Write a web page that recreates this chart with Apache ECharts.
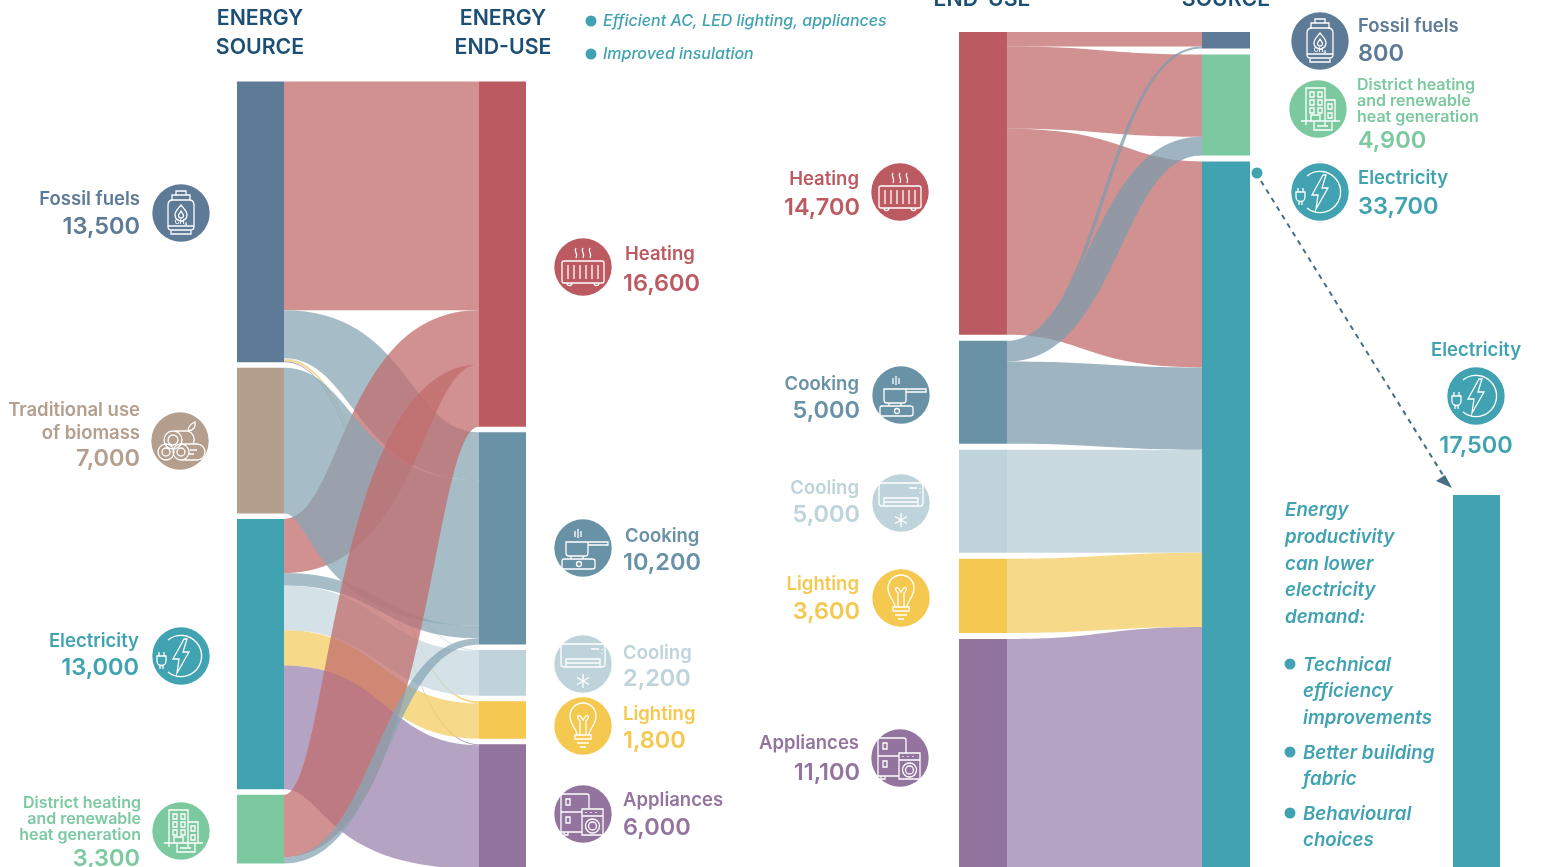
<!DOCTYPE html>
<html>
<head>
<meta charset="utf-8">
<title>Energy source and end-use</title>
<style>
  html, body { margin: 0; padding: 0; background: #fff; overflow: hidden; }
  #chart { width: 1542px; height: 867px; }
</style>
<script src="https://cdn.jsdelivr.net/npm/echarts@6/dist/echarts.min.js"></script>
</head>
<body>
<div id="chart"></div>
<script>
// Left diagram: energy source -> energy end-use
const sourcesNow = ["Fossil fuels", "Traditional use of biomass", "Electricity", "District heating"];
const usesNow = ["Heating", "Cooking", "Cooling", "Lighting", "Appliances"];
const nowFrom = ["Fossil fuels", "Fossil fuels", "Fossil fuels", "Fossil fuels", "Fossil fuels", "Electricity", "Traditional use of biomass", "Electricity", "Electricity", "Electricity", "Electricity", "District heating", "District heating"];
const nowTo = ["Heating", "Cooking", "Cooling", "Lighting", "Appliances", "Heating", "Cooking", "Cooking", "Cooling", "Lighting", "Appliances", "Heating", "Cooking"];
const nowValues = [11000, 2300, 50, 100, 50, 2600, 7000, 600, 2150, 1700, 5950, 3000, 300];

// Right diagram: end-use -> source
const usesLater = ["Heating", "Cooking", "Cooling", "Lighting", "Appliances"];
const sourcesLater = ["Fossil fuels", "District heating", "Electricity"];
const laterFrom = ["Heating", "Heating", "Heating", "Cooking", "Cooking", "Cooking", "Cooling", "Lighting", "Appliances"];
const laterTo = ["Fossil fuels", "District heating", "Electricity", "Fossil fuels", "District heating", "Electricity", "Electricity", "Electricity", "Electricity"];
// Appliances -> Electricity is read off the drawn band, which runs past the bottom
// edge of the picture; it is thicker than the printed 11,100 would make it.
const laterValues = [700, 4000, 10000, 100, 900, 4000, 5000, 3600, 11800];

// Electricity left after the productivity measures
const barNames = ["Electricity"];
const barValues = [17500];

const colors = {
  "Fossil fuels": "#5d7a97",
  "Traditional use of biomass": "#b49f8e",
  "Electricity": "#41a3b1",
  "District heating": "#7cc9a0",
  "Heating": "#bb5a60",
  "Cooking": "#6a92a6",
  "Cooling": "#bed3da",
  "Lighting": "#f5c84f",
  "Appliances": "#93749f"
};
// link tints, all drawn at LINK_ALPHA
const LINK_ALPHA = 0.75;
const nowLink = { Heating: "#c26c6c", Cooking: "#88a7b6", Cooling: "#c6d7df", Lighting: "#f4cc63", Appliances: "#9b84ae" };
const laterLink = { Heating: "#c26c6c", Cooking: "#7e9bac", Cooling: "#b8ced7", Lighting: "#f4cc63", Appliances: "#9b84ae" };
const FONT = "Inter, 'Noto Sans', sans-serif";
const TEAL = colors["Electricity"];

// the library lays out the nodes; its own ribbons stay transparent (see linkCurves)
function sankey(names, from, to, values, box) {
  return Object.assign({
    type: "sankey",
    nodeWidth: 47,
    nodeGap: 5.5,
    layoutIterations: 0,
    draggable: false,
    silent: true,
    label: { show: false },
    emphasis: { disabled: true },
    lineStyle: { opacity: 0 },
    data: names.map(n => ({ name: n, itemStyle: { color: colors[n], opacity: 1 } })),
    links: values.map((v, i) => ({ source: from[i], target: to[i], value: v }))
  }, box);
}

const NOW_BOX = { left: 237, top: 81.5, width: 289, height: 787.5 };
const LATER_BOX = { left: 959, top: 32, width: 291, height: 850, nodeWidth: 48, nodeGap: 6 };

// In the picture the two edges of a steep link bow apart, so the band swells in the
// middle. Sideways shift of the [upper, lower] edge's control points, per link, in px.
const nowBow = [[0, 0], [27, -27], [-12, -12], [0, 0], [0, 0], [-39, 40], [-28, -68], [0, 0], [0, 0], [0, 0], [5, -57], [-51, 49], [-6, 6]];
const laterBow = [[0, 0], [0, 0], [20, -20], [-2, 2], [-15, 15], [0, 0], [0, 0], [0, 0], [0, 0]];

// Link ends come from the sankey's own layout.
function linkCurves(seriesIndex, box, colorOf, bow) {
  const graph = chart.getModel().getSeriesByIndex(seriesIndex).getGraph();
  return graph.edges.map((e, i) => {
    const a = e.node1.getLayout(), b = e.node2.getLayout(), l = e.getLayout();
    const x0 = box.left + a.x + a.dx, x1 = box.left + b.x;
    const y0 = box.top + a.y + l.sy, y1 = box.top + b.y + l.ty;
    const mid = (x0 + x1) / 2, up = mid + bow[i][0], low = mid + bow[i][1];
    return {
      path: `M${x0} ${y0} C${up} ${y0} ${up} ${y1} ${x1} ${y1} L${x1} ${y1 + l.dy} ` +
            `C${low} ${y1 + l.dy} ${low} ${y0 + l.dy} ${x0} ${y0 + l.dy} Z`,
      color: colorOf(i)
    };
  });
}

function renderLink(params, api) {
  const k = linkShapes[api.value(0)];
  return {
    type: "path",
    shape: { pathData: k.path },
    style: { fill: k.color, opacity: LINK_ALPHA }
  };
}

// ---- icons, drawn in a local box around the circle centre
const ICONS = {
  gas: "M-13 -8 Q-13 -13 -8 -13 H8 Q13 -13 13 -8 V14 Q13 17 9 17 H-9 Q-13 17 -13 14 Z M-9 -13 V-18 H9 V-13 M-5 -18 V-22 H5 V-18 M-10 17 V21 H10 V17 M-13 13 H13 M0 -8 C3 -4 6 -2 6 2 A6 6 0 0 1 -6 2 C-6 -2 -3 -4 0 -8 Z M0 -2 C1 0 2.5 1 2.5 2.5 A2.5 2.5 0 0 1 -2.5 2.5 C-2.5 1 -1 0 0 -2 Z",
  biomass: "M-7 -1 m-9 0 a9 9 0 1 0 18 0 a9 9 0 1 0 -18 0 M-7 -1 m-5 0 a5 5 0 1 0 10 0 a5 5 0 1 0 -10 0 M-14 11 m-8 0 a8 8 0 1 0 16 0 a8 8 0 1 0 -16 0 M-14 11 m-4 0 a4 4 0 1 0 8 0 a4 4 0 1 0 -8 0 M1 11 m-8 0 a8 8 0 1 0 16 0 a8 8 0 1 0 -16 0 M1 11 m-4 0 a4 4 0 1 0 8 0 a4 4 0 1 0 -8 0 M1 3 H17 A8 8 0 0 1 17 19 H1 M-5 -10 H8 A9 9 0 0 1 13 3 M8 -10 C8 -14 10 -17 15 -19 C16 -14 14 -11 8 -10 Z M8 13 H14 M10 9 H17",
  electricity: "M-13 -16 A20.6 20.6 0 1 1 -13 16 M3 -17 L-8 3 H-2 L-4 17 L8 -4 H2 L6 -17 Z M-24 0 H-15 V5 A4.5 4.5 0 0 1 -24 5 Z M-22 0 V-4 M-17 0 V-4 M-21 9.5 V13 M-18 9.5 V13",
  district: "M-12 16 V-21 H7 V16 M7 -9 H17 V12 M-8 -17 H-4 V-12 H-8 Z M0 -17 H4 V-12 H0 Z M-8 -9 H-4 V-4 H-8 Z M0 -9 H4 V-4 H0 Z M-8 -1 H-4 V4 H-8 Z M0 -1 H4 V4 H0 Z M10 -5 H14 V0 H10 Z M10 4 H14 V9 H10 Z M-17 12 H22 M-7 12 V6 H2 V12 M-4 12 V21 H14 V12 M-1 17 H10",
  heating: "M-19 -6 H19 Q21 -6 21 -4 V14 Q21 16 19 16 H-19 Q-21 16 -21 14 V-4 Q-21 -6 -19 -6 Z M-15 -2 V12 M-9 -2 V12 M-3 -2 V12 M3 -2 V12 M9 -2 V12 M15 -2 V12 M-16 16 a2.5 2.5 0 1 0 5 0 M11 16 a2.5 2.5 0 1 0 5 0 M-7 -19 C-10 -15 -4 -14 -7 -9 M0 -19 C-3 -15 3 -14 0 -9 M7 -19 C4 -15 10 -14 7 -9",
  cooking: "M-17 -6 H5 V5 Q5 8 2 8 H-14 Q-17 8 -17 5 Z M5 -6 H25 V-3 H5 M-8 -11 V-17 M-5 -10 V-19 M-2 -11 V-17 M-12 8 V11 M0 8 V11 M-19 11 H9 Q12 11 12 13 V19 Q12 21 9 21 H-19 Q-21 21 -21 19 V13 Q-21 11 -19 11 Z M-4 16 m-2.5 0 a2.5 2.5 0 1 0 5 0 a2.5 2.5 0 1 0 -5 0",
  cooling: "M-19 -20 H19 Q22 -20 22 -17 V0 Q22 3 19 3 H-19 Q-22 3 -22 0 V-17 Q-22 -20 -19 -20 Z M-17 3 V-5 H17 V3 M-17 -1 H17 M8 -15 H16 M19 -15 V-14 M19 -11 V-10 M0 10 V24 M-6 13.5 L6 20.5 M-6 20.5 L6 13.5",
  lighting: "M-6 9 C-6 3 -13 -1 -13 -10 A13 13 0 0 1 13 -10 C13 -1 6 3 6 9 Z M-8 9 H8 V13 H-8 Z M-8 13 H8 M-6 17 H6 M-3 21 H3 M-3 9 L-3 -5 C-8 -10 -4 -12 -2 -9 L0 -6 L2 -9 C4 -12 8 -10 3 -5 L3 9",
  appliances: "M-20 -20 H4 Q6 -20 6 -18 V-5 M-20 -20 Q-22 -20 -22 -18 V18 H-1 M-22 -2 H-1 M-17 -15 H-13 V-9 H-17 Z M-17 3 H-13 V9 H-17 Z M-1 -5 H20 V21 H-1 Z M-1 2 H20 M3 -2 V-1 M8 -2 V-1 M13 -2 V-1 M9.5 12 m-7 0 a7 7 0 1 0 14 0 a7 7 0 1 0 -14 0 M9.5 12 m-4 0 a4 4 0 1 0 8 0 a4 4 0 1 0 -8 0 M-19 18 V21 H-15 V18"
};

const c = colors;
const iconSpots = [];
function icon(name, color, x, y) {
  iconSpots.push({ name, color, x, y });
}

function renderIcon(params, api) {
  const ic = iconSpots[api.value(0)];
  const children = [
    { type: "circle", shape: { cx: 0, cy: 0, r: 28.7 }, style: { fill: ic.color } },
    { type: "path", shape: { pathData: ICONS[ic.name] }, style: { fill: "none", stroke: "#fff", lineWidth: 1.3 } }
  ];
  if (ic.name === "gas") {
    children.push({ type: "text", style: { x: 0, y: 9, text: "CH₄", fill: "#fff", font: "600 6.5px " + FONT, textAlign: "center", textVerticalAlign: "middle" } });
  }
  return { type: "group", x: ic.x, y: ic.y, children };
}

icon("gas", c["Fossil fuels"], 181, 213);
icon("biomass", c["Traditional use of biomass"], 180, 441);
icon("electricity", TEAL, 181, 656);
icon("district", c["District heating"], 181, 831);
icon("heating", c["Heating"], 583, 267);
icon("cooking", c["Cooking"], 583, 548);
icon("cooling", c["Cooling"], 583, 664);
icon("lighting", c["Lighting"], 583, 726);
icon("appliances", c["Appliances"], 583, 814);
icon("heating", c["Heating"], 900, 192);
icon("cooking", c["Cooking"], 901, 395);
icon("cooling", c["Cooling"], 901, 503);
icon("lighting", c["Lighting"], 901, 598);
icon("appliances", c["Appliances"], 900, 758);
icon("gas", c["Fossil fuels"], 1320, 41);
icon("district", c["District heating"], 1318, 109);
icon("electricity", TEAL, 1320, 192);
icon("electricity", TEAL, 1476, 396);

const NAME = 18.5, NUM = 23.5, SMALL = 16, NOTE = 18.7, NAVY = "#1c4f73", ITALIC = "italic 600";

function txt(text, x, y, size, color, align, font) {
  return {
    type: "text",
    style: {
      x, text,
      y: y + (size === NUM ? 1 : 0),
      fill: color,
      font: (font || "600") + " " + size + "px " + FONT,
      textAlign: align,
      textVerticalAlign: "middle"
    }
  };
}

function dot(x, y) {
  return { type: "circle", shape: { cx: x, cy: y, r: 5.5 }, style: { fill: TEAL } };
}

const graphics = [
  // column titles
  txt("ENERGY", 260, 19, 21.3, NAVY, "center"),
  txt("SOURCE", 260, 48, 21.3, NAVY, "center"),
  txt("ENERGY", 503, 19, 21.3, NAVY, "center"),
  txt("END-USE", 503, 48, 21.3, NAVY, "center"),
  txt("END-USE", 982, 0, 21.3, NAVY, "center"),
  txt("SOURCE", 1226, 0, 21.3, NAVY, "center"),

  // measures note above the left diagram
  dot(591, 21),
  dot(591, 54),
  txt("Efficient AC, LED lighting, appliances", 603, 21, 16, TEAL, "left", "italic 500"),
  txt("Improved insulation", 603, 54, 16, TEAL, "left", "italic 500"),

  // left diagram, sources
  txt("Fossil fuels", 140, 199, NAME, c["Fossil fuels"], "right"),
  txt("13,500", 140, 226, NUM, c["Fossil fuels"], "right"),
  txt("Traditional use", 140, 410, NAME, c["Traditional use of biomass"], "right"),
  txt("of biomass", 140, 433, NAME, c["Traditional use of biomass"], "right"),
  txt("7,000", 140, 458, NUM, c["Traditional use of biomass"], "right"),
  txt("Electricity", 139, 641, NAME, TEAL, "right"),
  txt("13,000", 139, 667, NUM, TEAL, "right"),
  txt("District heating", 141, 803, SMALL, c["District heating"], "right"),
  txt("and renewable", 141, 819, SMALL, c["District heating"], "right"),
  txt("heat generation", 141, 835, SMALL, c["District heating"], "right"),
  txt("3,300", 140, 858, NUM, c["District heating"], "right"),

  // left diagram, end-uses
  txt("Heating", 625, 254, NAME, c["Heating"], "left"),
  txt("16,600", 623, 283, NUM, c["Heating"], "left"),
  txt("Cooking", 625, 536, NAME, c["Cooking"], "left"),
  txt("10,200", 623, 562, NUM, c["Cooking"], "left"),
  txt("Cooling", 623, 653, NAME, c["Cooling"], "left"),
  txt("2,200", 623, 678, NUM, c["Cooling"], "left"),
  txt("Lighting", 623, 714, NAME, c["Lighting"], "left"),
  txt("1,800", 623, 740, NUM, c["Lighting"], "left"),
  txt("Appliances", 623, 800, NAME, c["Appliances"], "left"),
  txt("6,000", 623, 827, NUM, c["Appliances"], "left"),

  // right diagram, end-uses
  txt("Heating", 859, 179, NAME, c["Heating"], "right"),
  txt("14,700", 860, 207, NUM, c["Heating"], "right"),
  txt("Cooking", 859, 384, NAME, c["Cooking"], "right"),
  txt("5,000", 860, 410, NUM, c["Cooking"], "right"),
  txt("Cooling", 859, 488, NAME, c["Cooling"], "right"),
  txt("5,000", 860, 514, NUM, c["Cooling"], "right"),
  txt("Lighting", 859, 584, NAME, c["Lighting"], "right"),
  txt("3,600", 860, 611, NUM, c["Lighting"], "right"),
  txt("Appliances", 859, 743, NAME, c["Appliances"], "right"),
  txt("11,100", 860, 772, NUM, c["Appliances"], "right"),

  // right diagram, sources
  txt("Fossil fuels", 1358, 26, NAME, c["Fossil fuels"], "left"),
  txt("800", 1358, 53, NUM, c["Fossil fuels"], "left"),
  txt("District heating", 1357, 85, SMALL, c["District heating"], "left"),
  txt("and renewable", 1357, 101, SMALL, c["District heating"], "left"),
  txt("heat generation", 1357, 117, SMALL, c["District heating"], "left"),
  txt("4,900", 1358, 140, NUM, c["District heating"], "left"),
  txt("Electricity", 1358, 178, NAME, TEAL, "left"),
  txt("33,700", 1358, 206, NUM, TEAL, "left"),

  // electricity after measures
  txt("Electricity", 1476, 350, NAME, TEAL, "center"),
  txt("17,500", 1476, 445, NUM, TEAL, "center"),

  // dashed arrow from the electricity node to the bar
  dot(1257, 173),
  { type: "line", shape: { x1: 1261, y1: 181, x2: 1446, y2: 480 }, style: { stroke: "#466f87", lineWidth: 2, lineDash: [5, 5] } },
  { type: "polygon", shape: { points: [[1452, 488], [1436, 481], [1445, 475]] }, style: { fill: "#466f87" } },

  // side note
  txt("Energy", 1285, 510, NOTE, TEAL, "left", ITALIC),
  txt("productivity", 1285, 537, NOTE, TEAL, "left", ITALIC),
  txt("can lower", 1285, 564, NOTE, TEAL, "left", ITALIC),
  txt("electricity", 1285, 590, NOTE, TEAL, "left", ITALIC),
  txt("demand:", 1285, 617, NOTE, TEAL, "left", ITALIC),
  dot(1290, 664),
  txt("Technical", 1303, 665, NOTE, TEAL, "left", ITALIC),
  txt("efficiency", 1303, 691, NOTE, TEAL, "left", ITALIC),
  txt("improvements", 1303, 718, NOTE, TEAL, "left", ITALIC),
  dot(1290, 752),
  txt("Better building", 1303, 753, NOTE, TEAL, "left", ITALIC),
  txt("fabric", 1303, 779, NOTE, TEAL, "left", ITALIC),
  dot(1290, 813),
  txt("Behavioural", 1303, 814, NOTE, TEAL, "left", ITALIC),
  txt("choices", 1303, 840, NOTE, TEAL, "left", ITALIC)
];

const chart = echarts.init(document.getElementById("chart"), null, { renderer: "canvas" });
chart.setOption({
  backgroundColor: "#fff",
  animation: false,
  grid: { left: 1453, top: 495, width: 47, height: 380 },
  xAxis: { type: "category", data: barNames, show: false },
  yAxis: { type: "value", min: 0, max: 17500, show: false },
  graphic: { elements: graphics },
  series: [
    sankey(sourcesNow.concat(usesNow), nowFrom, nowTo, nowValues, NOW_BOX),
    sankey(usesLater.concat(sourcesLater), laterFrom, laterTo, laterValues, LATER_BOX),
    { type: "bar", data: barValues, barWidth: 47, silent: true, itemStyle: { color: TEAL } },
    {
      type: "custom",
      coordinateSystem: "none",
      silent: true,
      data: iconSpots.map((s, i) => [i]),
      renderItem: renderIcon
    }
  ]
});

// links go in once the sankey layout exists
const linkShapes = linkCurves(0, NOW_BOX, i => nowLink[nowTo[i]], nowBow)
  .concat(linkCurves(1, LATER_BOX, i => laterLink[laterFrom[i]], laterBow));

chart.setOption({
  series: [
    {}, {}, {}, {},
    {
      type: "custom",
      coordinateSystem: "none",
      silent: true,
      data: linkShapes.map((s, i) => [i]),
      renderItem: renderLink
    }
  ]
});
window.addEventListener("resize", () => chart.resize());
</script>
</body>
</html>
